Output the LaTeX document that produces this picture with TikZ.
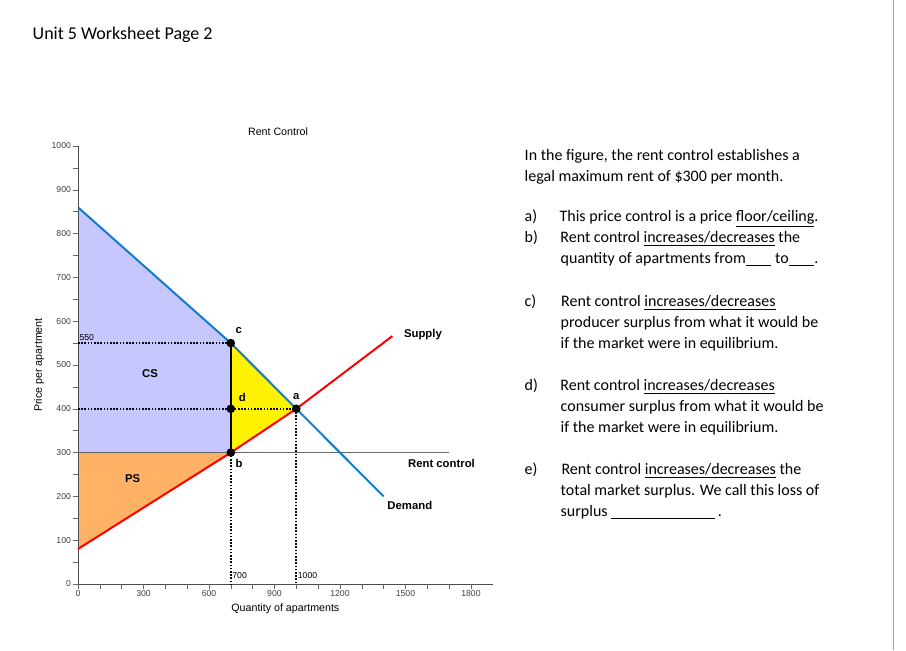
\documentclass[tikz,border=0pt]{standalone}
\usepackage{fontspec}
\setmainfont{Carlito}
\newfontfamily\arial{Liberation Sans}
\begin{document}
\begin{tikzpicture}[x=0.75pt,y=-0.75pt,
  tick/.style={font=\arial\fontsize{6.5}{7}\selectfont, text=black!75, inner sep=1pt},
  lbl/.style={font=\arial\bfseries\fontsize{8.5}{9}\selectfont},
  dotl/.style={dash pattern=on 1.2pt off 1.2pt, line width=1.3pt},
  pt/.style={circle, fill=black, inner sep=0pt, minimum size=6.5pt},
  body/.style={font=\fontsize{12}{15.75}\selectfont, anchor=north west, align=left}]
\useasboundingbox (0,0) rectangle (906,650);
\fill[white] (0,0) rectangle (906,650);
\draw[black!35] (893,0) -- (893,650);
\node[anchor=west, font=\fontsize{13.5}{16}\selectfont] (title) at (28,35) {Unit 5 Worksheet Page 2};
\node[font=\arial\fontsize{8}{9}\selectfont] (ctitle) at (278,132) {Rent Control};
\begin{scope}[shift={(78,584)}, x=0.16373pt, y=0.3285pt]
  \coordinate (a) at (1000,400);
  \coordinate (b) at (700,300);
  \coordinate (c) at (700,550);
  \coordinate (d) at (700,400);
  \coordinate (dem0) at (0,860);
  \coordinate (dem1) at (1400,200);
  \coordinate (sup0) at (0,80);
  \coordinate (sup1) at (1440,566);
  \fill[blue!22] (0,300) -- (dem0) -- (c) -- (b) -- cycle;
  \fill[orange!60] (0,300) -- (b) -- (sup0) -- cycle;
  \fill[yellow] (c) -- (a) -- (b) -- cycle;
  % axes
  \draw[black!70] (0,1000) -- (0,0) -- (1900,0);
  \foreach \v in {0,50,...,1000} \draw[black!60] (-25,\v) -- (0,\v);
  \foreach \v in {0,100,...,1000} \node[tick, anchor=east] at (-25,\v) {\v};
  \foreach \v in {0,100,...,1800} \draw[black!60] (\v,0) -- (\v,-12);
  \foreach \v in {0,300,...,1800} \node[tick, anchor=north] at (\v,-12) {\v};
  \node[font=\arial\fontsize{8}{9}\selectfont, anchor=north] (xl) at (950,-35) {Quantity of apartments};
  \node[font=\arial\fontsize{8}{9}\selectfont, rotate=90] (yl) at (-178,500) {Price per apartment};
  % dotted guides
  \draw[dotl] (0,550) -- (c);
  \draw[dotl] (0,400) -- (a);
  \draw[dotl] (b) -- (700,0);
  \draw[dotl] (a) -- (1000,0);
  \draw[black, line width=1.5pt] (c) -- (b);
  \draw[black!60, line width=1.1pt] (0,300) -- (1700,300);
  \draw[red, line width=1.5pt] (sup0) -- (b) -- (a) -- (sup1);
  \draw[cyan!60!blue, line width=1.5pt] (dem0) -- (c) -- (a) -- (dem1);
  \node[pt] at (a) {}; \node[pt] at (b) {}; \node[pt] at (c) {}; \node[pt] at (d) {};
  \node[lbl, above] at (1000,410) {a};
  \node[lbl, below right] at (700,295) {b};
  \node[lbl, above right] at (700,560) {c};
  \node[lbl, right] at (715,425) {d};
  \node[tick, text=black, above right] at (0,553) {550};
  \node[tick, text=black, right] at (700,20) {700};
  \node[tick, text=black, right] at (1000,20) {1000};
  \node[lbl] at (330,480) {CS};
  \node[lbl] at (250,240) {PS};
  \node[lbl] at (1580,570) {Supply};
  \node[lbl] at (1665,275) {Rent control};
  \node[lbl] at (1520,180) {Demand};
\end{scope}
\node[body] (t1) at (520,145) {In the figure, the rent control establishes a\\legal maximum rent of \$300 per month.};
\node[body] (t2) at (520,205) {a)\hspace{1.4em}This price control is a price \underline{floor/ceiling}.\\b)\hspace{1.4em}Rent control \underline{increases/decreases} the\\\hspace{2.25em}quantity of apartments from\underline{\hspace{1.6em}} to\underline{\hspace{1.6em}}.};
\node[body] (t3) at (520,290) {c)\hspace{1.55em}Rent control \underline{increases/decreases}\\\hspace{2.25em}producer surplus from what it would be\\\hspace{2.25em}if the market were in equilibrium.};
\node[body] (t4) at (520,374) {d)\hspace{1.4em}Rent control \underline{increases/decreases}\\\hspace{2.25em}consumer surplus from what it would be\\\hspace{2.25em}if the market were in equilibrium.};
\node[body] (t5) at (520,458) {e)\hspace{1.5em}Rent control \underline{increases/decreases} the\\\hspace{2.25em}total market surplus. We call this loss of\\\hspace{2.25em}surplus \underline{\hspace{6.5em}}\,.};
\end{tikzpicture}
\end{document}
